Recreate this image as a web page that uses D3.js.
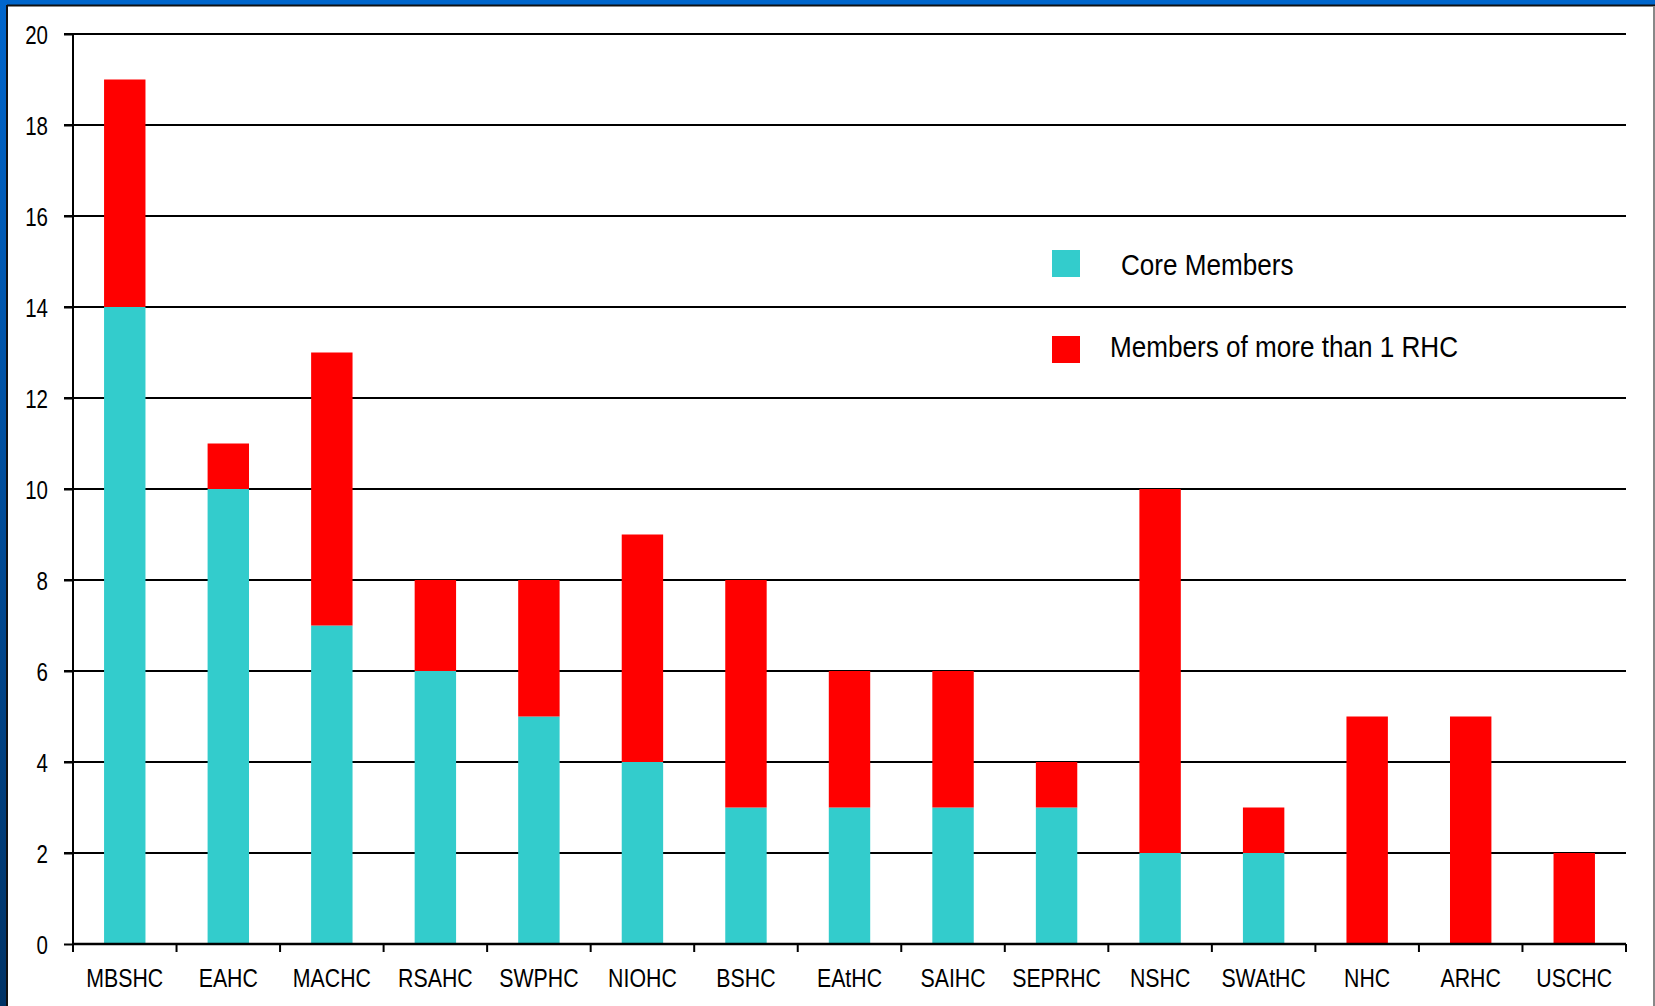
<!DOCTYPE html>
<html><head><meta charset="utf-8">
<script src="https://cdn.jsdelivr.net/npm/d3@7"></script>
<style>
html,body{margin:0;padding:0;background:#fff;overflow:hidden;}
svg{display:block;}
</style></head>
<body>
<svg id="c" width="1655" height="1006"></svg>
<script>
const categories = ["MBSHC","EAHC","MACHC","RSAHC","SWPHC","NIOHC","BSHC","EAtHC","SAIHC","SEPRHC","NSHC","SWAtHC","NHC","ARHC","USCHC"];
const coreMembers = [14,10,7,6,5,4,3,3,3,3,2,2,0,0,0];
const multiMembers = [5,1,6,2,3,5,5,3,3,1,8,1,5,5,2];
const seriesNames = ["Core Members","Members of more than 1 RHC"];
const seriesColors = ["#33CCCC","#FF0000"];
const yTicks = [0,2,4,6,8,10,12,14,16,18,20];

(function(){
const svg = d3.select("#c");
const W = 1655, H = 1006;
const FONT = "'Liberation Sans Narrow','Arial Narrow','Liberation Sans',Arial,sans-serif";
const SX = 0.82; // horizontal condensation for narrow look

// frame
const defs = svg.append("defs");
const lg = defs.append("linearGradient").attr("id","lb").attr("x1",0).attr("y1",0).attr("x2",0).attr("y2",1);
lg.append("stop").attr("offset","0%").attr("stop-color","#0066CC");
lg.append("stop").attr("offset","100%").attr("stop-color","#003366");
svg.append("rect").attr("x",0).attr("y",0).attr("width",W).attr("height",H).attr("fill","#fff");
svg.append("rect").attr("x",0).attr("y",0).attr("width",7).attr("height",H).attr("fill","url(#lb)");
svg.append("rect").attr("x",0).attr("y",0).attr("width",W).attr("height",5).attr("fill","#0066CC");
svg.append("line").attr("x1",7).attr("x2",W).attr("y1",5.5).attr("y2",5.5).attr("stroke","#111").attr("stroke-width",2);
svg.append("line").attr("x1",7).attr("x2",7).attr("y1",5).attr("y2",H).attr("stroke","#111").attr("stroke-width",2);
svg.append("line").attr("x1",1654).attr("x2",1654).attr("y1",6).attr("y2",H).attr("stroke","#888").attr("stroke-width",2);

const pL = 73, pR = 1626, pT = 34, pB = 944;
const x = d3.scaleBand().domain(categories).range([pL,pR]).paddingInner(0.6).paddingOuter(0.3);
const y = d3.scaleLinear().domain([0,20]).range([pB,pT]);

// gridlines
svg.append("g").selectAll("line").data(yTicks.filter(d=>d>0)).join("line")
  .attr("x1",64).attr("x2",pR).attr("y1",d=>y(d)).attr("y2",d=>y(d))
  .attr("stroke","#000").attr("stroke-width",2);

// stacked bars
const rows = categories.map((c,i)=>({cat:c, core:coreMembers[i], multi:multiMembers[i]}));
const stack = d3.stack().keys(["core","multi"])(rows);
svg.append("g").selectAll("g").data(stack).join("g")
  .attr("fill",(d,i)=>seriesColors[i])
  .selectAll("rect").data(d=>d.filter(s=>s[1]>s[0])).join("rect")
  .attr("x",d=>x(d.data.cat)).attr("width",x.bandwidth())
  .attr("y",d=>y(d[1])).attr("height",d=>y(d[0])-y(d[1]));

// y axis
const yAxis = svg.append("g").attr("transform",`translate(${pL},0)`)
  .call(d3.axisLeft(y).tickValues(yTicks).tickSize(9).tickPadding(16).tickFormat(d3.format("d")));
yAxis.select(".domain").attr("stroke","#000").attr("stroke-width",2).attr("d",`M0,${pT}V${pB}`);
yAxis.selectAll(".tick line").attr("stroke","#000").attr("stroke-width",2);
yAxis.selectAll("text").attr("font-family",FONT).attr("font-size",25).attr("fill","#000")
  .attr("dy","0.36em").attr("x",-25/SX).attr("transform",`scale(${SX},1)`);

// x axis
svg.append("line").attr("x1",pL).attr("x2",pR).attr("y1",pB).attr("y2",pB).attr("stroke","#000").attr("stroke-width",2.5);
const bounds = categories.map((c,i)=>pL + i*(pR-pL)/categories.length).concat([pR]);
svg.append("g").selectAll("line").data(bounds).join("line")
  .attr("x1",d=>d).attr("x2",d=>d).attr("y1",pB).attr("y2",pB+8)
  .attr("stroke","#000").attr("stroke-width",2);
svg.append("g").selectAll("text").data(categories).join("text")
  .attr("transform",d=>`translate(${x(d)+x.bandwidth()/2},987) scale(${SX},1)`)
  .attr("text-anchor","middle").attr("font-family",FONT).attr("font-size",26).attr("fill","#000")
  .text(d=>d);

// legend
const legendItems = [
  {name:seriesNames[0], color:seriesColors[0], sy:250, tx:1121, ty:275},
  {name:seriesNames[1], color:seriesColors[1], sy:336, tx:1110, ty:357}
];
const lgG = svg.append("g");
legendItems.forEach(it=>{
  lgG.append("rect").attr("x",1052).attr("y",it.sy).attr("width",28).attr("height",27).attr("fill",it.color);
  lgG.append("text").attr("transform",`translate(${it.tx},${it.ty}) scale(0.9,1)`)
    .attr("font-family",FONT).attr("font-size",29).attr("fill","#000").text(it.name);
});
})();
</script>
</body></html>
